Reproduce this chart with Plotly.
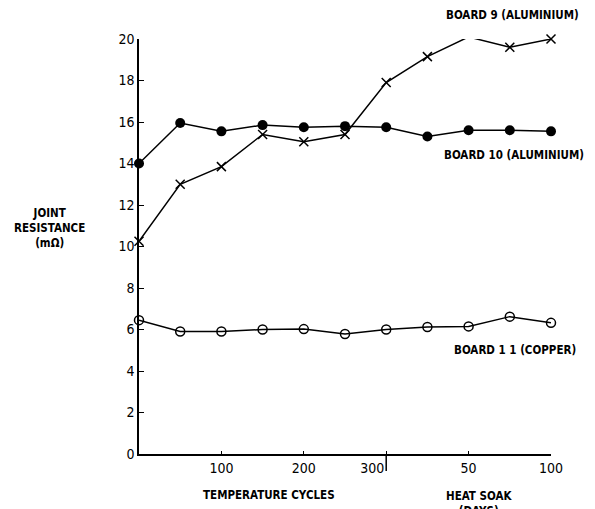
import plotly.graph_objects as go

# x positions: temperature cycles 0..300, then heat soak days mapped onto 300..500 (2 units per day)
x_pos = [0, 50, 100, 150, 200, 250, 300, 350, 400, 450, 500]
board9 = [10.25, 13.0, 13.85, 15.4, 15.05, 15.4, 17.9, 19.15, 20.1, 19.6, 20.0]
board10 = [14.0, 15.95, 15.55, 15.85, 15.75, 15.8, 15.75, 15.3, 15.6, 15.6, 15.55]
board11 = [6.45, 5.9, 5.9, 6.0, 6.02, 5.78, 6.0, 6.12, 6.15, 6.62, 6.32]

x_tickvals = [100, 200, 300, 400, 500]
x_ticktext = ["100", "200", "300" + "\u00a0" * 7, "50", "100"]
y_tickvals = [0, 2, 4, 6, 8, 10, 12, 14, 16, 18, 20]

FONT = "DejaVu Sans Condensed"
W, H = 595, 509
L, R, T, B = 139, 44, 39, 55
fig = go.Figure()
line = dict(color="black", width=1.5)
fig.add_trace(go.Scatter(x=x_pos, y=board10, mode="lines+markers", line=line,
                         marker=dict(symbol="circle", size=10, color="black"), cliponaxis=False))
fig.add_trace(go.Scatter(x=x_pos, y=board9, mode="lines+markers", line=line,
                         marker=dict(symbol="x-thin", size=9, line=dict(color="black", width=1.5)), cliponaxis=False))
fig.add_trace(go.Scatter(x=x_pos, y=board11, mode="lines+markers", line=line,
                         marker=dict(symbol="circle-open", size=9, color="black", line=dict(width=1.5)), cliponaxis=False))

tickfont = dict(family=FONT, size=14, color="black")
fig.update_layout(
    width=W, height=H, showlegend=False,
    paper_bgcolor="white", plot_bgcolor="white",
    margin=dict(l=L, r=R, t=T, b=B),
    font=dict(family=FONT, size=12, color="black"),
    xaxis=dict(range=[0, 500], showgrid=False, zeroline=False, showline=True, linecolor="black", linewidth=1.5,
               tickvals=x_tickvals, ticktext=x_ticktext, ticks="inside", ticklen=3, tickcolor="black",
               tickfont=tickfont),
    yaxis=dict(range=[0, 20], showgrid=False, zeroline=False, showline=True, linecolor="black", linewidth=1.5,
               tickvals=y_tickvals, ticks="inside", ticklen=5, tickcolor="black", tickfont=tickfont),
)
fig.add_shape(type="line", xref="x", yref="paper", x0=300, x1=300, y0=0, y1=-0.041,
              line=dict(color="black", width=1.5))

def px(xp, yp):
    return (xp - L) / (W - L - R), (H - B - yp) / (H - T - B)

ann = dict(showarrow=False, xref="paper", yref="paper", xanchor="center", yanchor="middle",
           font=dict(family=FONT, size=11.5, color="black", weight="bold"))
for text, xp, yp in [("BOARD 9 (ALUMINIUM)", 512, 15),
                     ("BOARD 10 (ALUMINIUM)", 514, 155),
                     ("BOARD 1 1 (COPPER)", 515, 350),
                     ("TEMPERATURE CYCLES", 269, 495),
                     ("HEAT SOAK<br>(DAYS)", 479, 503),
                     ("JOINT<br>RESISTANCE<br>(mΩ)", 49, 228)]:
    ax, ay = px(xp, yp)
    fig.add_annotation(x=ax, y=ay, text=text, **ann)

fig.write_html("out.html", config={"displayModeBar": False},
               post_script="document.body.style.margin='0';")
